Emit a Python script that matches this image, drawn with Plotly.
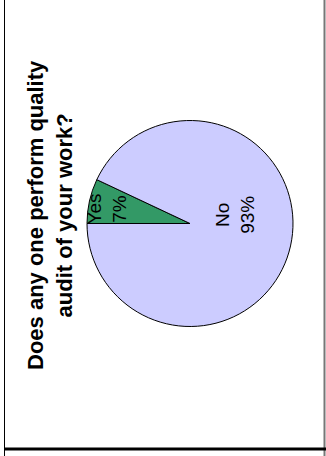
import math
import plotly.graph_objects as go

# Survey answers
labels = ["Yes", "No"]
values = [7, 93]
colors = ["#339966", "#CCCCFF"]

title_lines = ["Does any one perform quality", "audit of your work?"]

W, H = 326, 456
# pie placement in pixels
cx, cy, R = 190.0, 223.5, 103.0
rotation = -90  # first slice starts at 9 o'clock, going clockwise

fig = go.Figure(
    go.Pie(
        labels=labels,
        values=values,
        sort=False,
        direction="clockwise",
        rotation=rotation,
        marker=dict(colors=colors, line=dict(color="#000000", width=1)),
        textinfo="none",
        hoverinfo="label+percent",
        showlegend=False,
        domain=dict(
            x=[(cx - R) / W, (cx + R) / W],
            y=[1 - (cy + R) / H, 1 - (cy - R) / H],
        ),
    )
)

# slice labels, rotated like the rest of the chart:
# (radial fraction, angular shift in degrees) for each label
label_place = {"Yes": (0.82, -2.5), "No": (0.45, -24.0)}
total = sum(values)
start = 0.0
annotations = []
for lab, val in zip(labels, values):
    frac = val / total
    mid = start + frac / 2
    start += frac
    rf, shift = label_place[lab]
    # angle measured clockwise from 12 o'clock
    a = math.radians(rotation + mid * 360 + shift)
    px = cx + rf * R * math.sin(a)
    py = cy - rf * R * math.cos(a)
    pct = round(100 * frac)
    annotations.append(dict(
        x=px / W, y=1 - py / H, xref="paper", yref="paper",
        text=f"{lab}<br>{pct}%", showarrow=False, textangle=-90,
        xanchor="center", yanchor="middle",
        font=dict(family="Liberation Sans, Arial, sans-serif", size=19, color="#000000"),
    ))

annotations.append(dict(
    x=50 / W, y=1 - 215 / H, xref="paper", yref="paper",
    text="<b>" + "<br>".join(title_lines) + "</b>", showarrow=False, textangle=-90,
    xanchor="center", yanchor="middle",
    font=dict(family="Liberation Sans, Arial, sans-serif", size=22, color="#000000"),
))

shapes = [
    dict(type="line", xref="paper", yref="paper", x0=4.5 / W, x1=4.5 / W, y0=0, y1=1,
         line=dict(color="#000000", width=1)),
    dict(type="line", xref="paper", yref="paper", x0=324.5 / W, x1=324.5 / W,
         y0=0, y1=1, line=dict(color="#777777", width=2)),
    dict(type="line", xref="paper", yref="paper", x0=4 / W, x1=1, y0=1 - 449 / H,
         y1=1 - 449 / H, line=dict(color="#000000", width=3)),
]

fig.update_layout(
    width=W, height=H,
    margin=dict(l=0, r=0, t=0, b=0),
    paper_bgcolor="#FFFFFF",
    plot_bgcolor="#FFFFFF",
    annotations=annotations,
    shapes=shapes,
)

fig.write_html("out.html")
